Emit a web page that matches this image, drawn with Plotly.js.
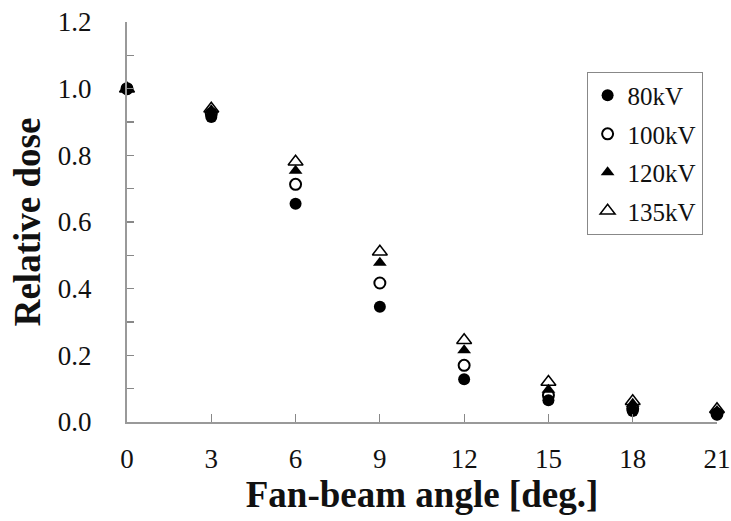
<!DOCTYPE html>
<html>
<head>
<meta charset="utf-8">
<script src="https://cdn.plot.ly/plotly-3.0.1.min.js"></script>
<style>html,body{margin:0;padding:0;background:#fff;}#chart{width:731px;height:521px;}</style>
</head>
<body>
<div id="chart"></div>
<script>
const angles = [0, 3, 6, 9, 12, 15, 18, 21];
const dose80 = [1.0, 0.915, 0.655, 0.346, 0.128, 0.065, 0.033, 0.022];
const dose100 = [1.0, 0.925, 0.713, 0.417, 0.170, 0.080, 0.040, 0.025];
const dose120 = [1.0, 0.935, 0.754, 0.478, 0.215, 0.097, 0.055, 0.033];
const dose135 = [1.0, 0.940, 0.781, 0.511, 0.245, 0.120, 0.062, 0.038];
const seriesNames = ['80kV', '100kV', '120kV', '135kV'];
const xTicks = [0, 3, 6, 9, 12, 15, 18, 21];
const yTicks = [0.0, 0.2, 0.4, 0.6, 0.8, 1.0, 1.2];
const yTickText = ['0.0', '0.2', '0.4', '0.6', '0.8', '1.0', '1.2'];

const fam = 'Liberation Serif';
const styles = [
  {symbol: 'circle', size: 12, color: '#000', line: {color: '#000', width: 0}},
  {symbol: 'circle-open', size: 11, color: '#000', line: {color: '#000', width: 2}},
  {symbol: 'triangle-up', size: 12, color: '#000', line: {color: '#000', width: 0}},
  {symbol: 'triangle-up-open', size: 13, color: '#000', line: {color: '#000', width: 1.5}}
];
const allY = [dose80, dose100, dose120, dose135];
const traces = allY.map((ys, i) => ({
  type: 'scatter', mode: 'markers', x: angles, y: ys, name: seriesNames[i],
  legendgroup: 'g' + i,
  marker: styles[i], cliponaxis: false
}));

const layout = {
  width: 731, height: 521,
  margin: {l: 127, r: 14, t: 22, b: 99},
  paper_bgcolor: '#fff', plot_bgcolor: '#fff',
  showlegend: true,
  font: {family: fam, color: '#111'},
  legend: {
    x: 0.779, y: 0.876, xanchor: 'left', yanchor: 'top',
    bordercolor: '#888', borderwidth: 1, bgcolor: '#fff',
    font: {family: fam, size: 25, color: '#111'},
    tracegroupgap: 3, traceorder: 'grouped', itemwidth: 30
  },
  xaxis: {
    range: [0, 21], tickvals: xTicks, ticktext: xTicks.map(String),
    ticks: 'inside', ticklen: 8, tickcolor: '#888', tickwidth: 1.2,
    showline: true, linecolor: '#999', linewidth: 2,
    showgrid: false, zeroline: false,
    tickfont: {family: fam, size: 27, color: '#111'},
    ticklabelstandoff: 12,
    title: {text: 'Fan-beam angle [deg.]', font: {family: fam, size: 37, color: '#111', weight: 'bold'}, standoff: 8}
  },
  yaxis: {
    range: [0, 1.2], tickvals: yTicks, ticktext: yTickText,
    ticks: 'inside', ticklen: 7, tickcolor: '#888', tickwidth: 1.2,
    minor: {dtick: 0.1, tick0: 0, ticks: 'inside', ticklen: 7, tickcolor: '#888', tickwidth: 1.2},
    showline: true, linecolor: '#999', linewidth: 2,
    showgrid: false, zeroline: false,
    tickfont: {family: fam, size: 27, color: '#111'},
    ticklabelstandoff: 28,
    title: {text: 'Relative dose', font: {family: fam, size: 37, color: '#111', weight: 'bold'}, standoff: 6}
  }
};
Plotly.newPlot('chart', traces, layout, {displayModeBar: false, staticPlot: true});
</script>
</body>
</html>
